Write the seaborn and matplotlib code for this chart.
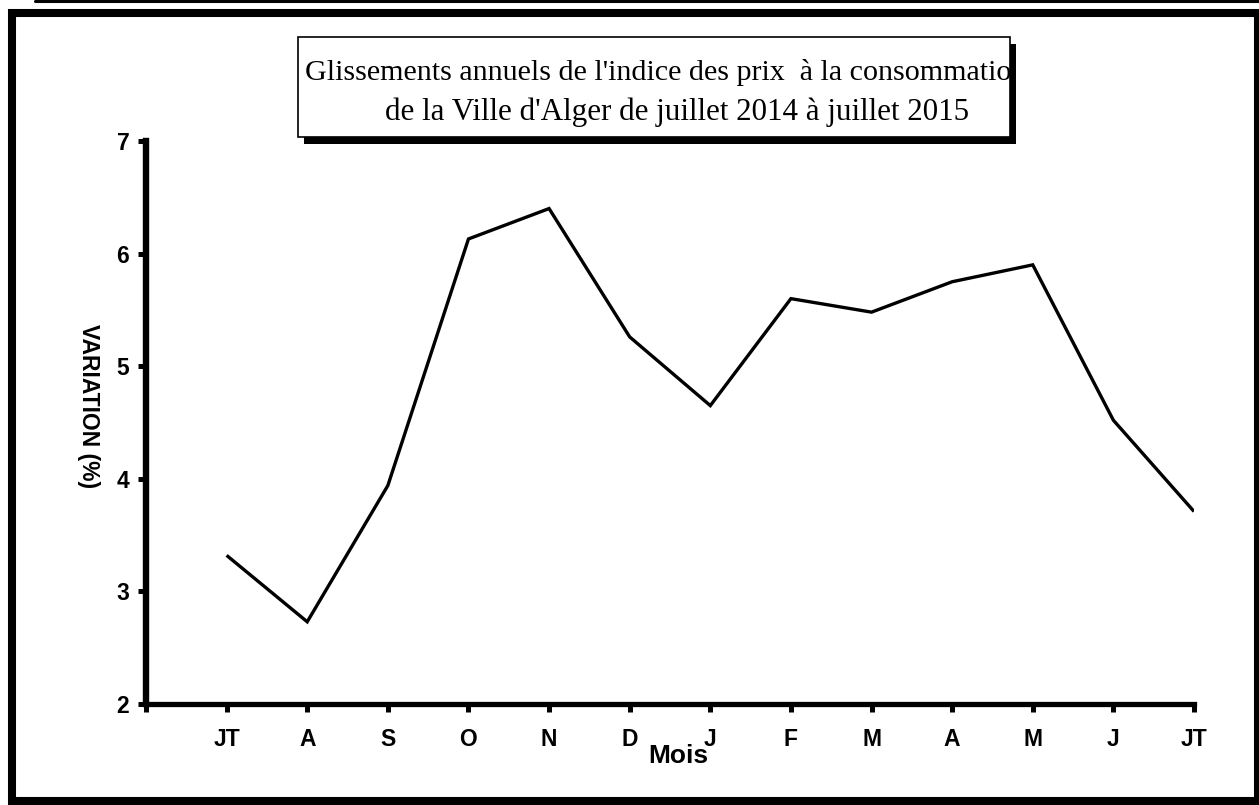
import numpy as np
import pandas as pd
import matplotlib
matplotlib.use("Agg")
import matplotlib.pyplot as plt
import seaborn as sns
from matplotlib.patches import Rectangle
from matplotlib.lines import Line2D

# ---- data ----
months = ["JT", "A", "S", "O", "N", "D", "J", "F", "M", "A", "M", "J", "JT"]
variation = [3.32, 2.73, 3.94, 6.13, 6.40, 5.26, 4.65, 5.60, 5.48, 5.75, 5.90, 4.52, 3.71]
yticks = [2, 3, 4, 5, 6, 7]
title_line1 = "Glissements annuels de l'indice des prix  à la consommation"
title_line2 = "de la Ville d'Alger de juillet 2014 à juillet 2015"
xlabel = "Mois"
ylabel = "VARIATION (%)"

sns.set_theme(style="white")
plt.rcParams['font.family'] = ['Liberation Sans', 'DejaVu Sans']

W, H = 1259, 805
fig = plt.figure(figsize=(W / 100, H / 100), dpi=100)
fig.patch.set_facecolor("white")

def fx(px):
    return px / W

def fy(py):
    return 1 - py / H

ax = fig.add_axes([fx(146), fy(704), fx(1194) - fx(146), fy(141) - fy(704)])
ax.set_facecolor("white")

df = pd.DataFrame({"pos": np.arange(len(months)), "val": variation})
sns.lineplot(data=df, x="pos", y="val", ax=ax, color="black", linewidth=2.4,
             solid_joinstyle="miter", solid_capstyle="butt")

ax.set_xlim(-1, len(months) - 1)
ax.set_ylim(yticks[0], yticks[-1])
ax.set_xticks(np.arange(-1, len(months)))
ax.set_xticklabels([""] + months)
ax.set_yticks(yticks)
ax.set_yticklabels([str(v) for v in yticks])

for s in ["top", "right"]:
    ax.spines[s].set_visible(False)
ax.spines["left"].set_linewidth(4.6)
ax.spines["bottom"].set_linewidth(3.8)
ax.spines["left"].set_color("black")
ax.spines["bottom"].set_color("black")

ax.tick_params(axis="both", which="major", direction="out", length=6, width=3.6,
               color="black", labelcolor="black", bottom=True, left=True)
ax.tick_params(axis="x", pad=11, labelsize=16.5)
ax.tick_params(axis="y", pad=6, labelsize=16.5)
for lab in ax.get_xticklabels() + ax.get_yticklabels():
    lab.set_fontweight("bold")
ax.grid(False)

ax.set_xlabel("")
ax.set_ylabel("")
fig.text(fx(678), fy(756), xlabel, ha="center", va="center", fontsize=19,
         fontweight="bold", color="black")
fig.text(fx(88), fy(406), ylabel, ha="center", va="center", rotation=-90,
         fontsize=16.5, fontweight="bold", color="black")

# ---- title box with shadow ----
bx0, by0, bx1, by1 = 298, 37, 1010, 137
shadow = Rectangle((fx(bx0 + 6), fy(by1 + 7)), fx(bx1 - bx0), fy(by0) - fy(by1),
                   transform=fig.transFigure, facecolor="black", edgecolor="none",
                   zorder=5)
box = Rectangle((fx(bx0), fy(by1)), fx(bx1 - bx0), fy(by0) - fy(by1),
                transform=fig.transFigure, facecolor="white", edgecolor="black",
                linewidth=1.2, zorder=6)
fig.patches.extend([shadow, box])
t1 = fig.text(fx(305), fy(80), title_line1, ha="left", va="baseline",
              fontsize=21.6, family="Liberation Serif", color="black", zorder=7)
t2 = fig.text(fx(385), fy(120), title_line2, ha="left", va="baseline",
              fontsize=22.3, family="Liberation Serif", color="black", zorder=7)
t1.set_clip_path(box)
t2.set_clip_path(box)

# ---- outer frame and top rule ----
frame = Rectangle((fx(12), fy(801)), fx(1258 - 12), fy(13) - fy(801),
                  transform=fig.transFigure, facecolor="none", edgecolor="black",
                  linewidth=5.8, zorder=10)
fig.patches.append(frame)
fig.lines.append(Line2D([fx(35), 1], [fy(1.2), fy(1.2)], transform=fig.transFigure,
                        color="black", linewidth=2.2))

fig.savefig("out.png", dpi=100, facecolor="white")
